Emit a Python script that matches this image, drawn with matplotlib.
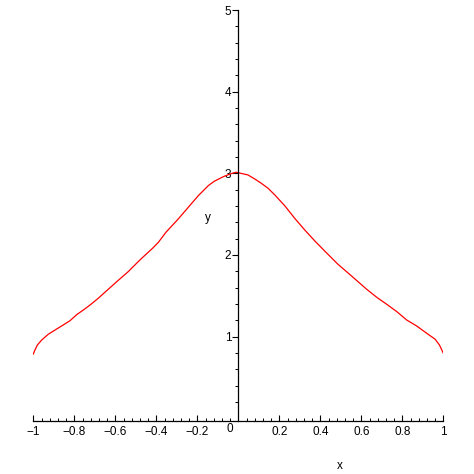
import numpy as np
import matplotlib
matplotlib.use("Agg")
import matplotlib.pyplot as plt

# Curve values (x, y)
x_vals = [-1.0, -0.992, -0.980, -0.959, -0.927, -0.894, -0.854, -0.821, -0.788,
          -0.756, -0.723, -0.683, -0.642, -0.593, -0.537, -0.480, -0.415, -0.390,
          -0.353, -0.293, -0.244, -0.195, -0.146, -0.117, -0.073, -0.040,
          -0.011,
          0.012, 0.047, 0.080, 0.112, 0.145, 0.178, 0.226, 0.275, 0.324, 0.373,
          0.421, 0.486, 0.537, 0.578, 0.626, 0.675, 0.724, 0.773, 0.821, 0.870,
          0.919, 0.960, 0.981, 1.0]
y_vals = [0.787, 0.837, 0.898, 0.959, 1.029, 1.081, 1.143, 1.195, 1.270,
          1.326, 1.388, 1.470, 1.563, 1.673, 1.796, 1.939, 2.090, 2.155,
          2.278, 2.441, 2.584, 2.727, 2.850, 2.903, 2.959, 2.992,
          3.013,
          3.000, 2.980, 2.931, 2.878, 2.817, 2.735, 2.604, 2.449, 2.306, 2.172,
          2.049, 1.886, 1.776, 1.686, 1.580, 1.482, 1.396, 1.306, 1.204, 1.130,
          1.041, 0.968, 0.898, 0.796]

x_ticks = [-1, -0.8, -0.6, -0.4, -0.2, 0.2, 0.4, 0.6, 0.8, 1]
x_tick_labels = ["\u22121", "\u22120.8", "\u22120.6", "\u22120.4", "\u22120.2",
                 "0.2", "0.4", "0.6", "0.8", "1"]
y_ticks = [1, 2, 3, 4, 5]

plt.rcParams["font.family"] = ["Liberation Sans", "DejaVu Sans"]

fig = plt.figure(figsize=(4.74, 4.74), dpi=100)
ax = fig.add_axes([0.0703, 0.1124, 0.865, 0.8665])

ax.plot(x_vals, y_vals, color="red", linewidth=0.9)

ax.set_xlim(-1, 1)
ax.set_ylim(-0.03, 5)

for side in ["top", "right"]:
    ax.spines[side].set_visible(False)
ax.spines["left"].set_position(("data", 0))
ax.spines["left"].set_linewidth(0.9)
ax.spines["bottom"].set_linewidth(0.9)

ax.set_xticks(x_ticks)
ax.set_xticklabels(x_tick_labels)
ax.set_xticks(np.arange(-1, 1.001, 0.04), minor=True)
ax.set_yticks(y_ticks)
ax.set_yticks(np.arange(0.2, 5.001, 0.2), minor=True)

ax.tick_params(axis="x", direction="in", length=4, width=0.8, labelsize=8.5, pad=4)
ax.tick_params(axis="x", which="minor", direction="in", length=2.5, width=0.7)
ax.tick_params(axis="y", direction="out", length=4, width=0.8, labelsize=8.5, pad=1)
ax.tick_params(axis="y", which="minor", direction="out", length=2.5, width=0.7)

ax.text(-0.04, -0.06, "0", ha="center", va="top", fontsize=8.5)
ax.text(-0.149, 2.45, "y", ha="center", va="center", fontsize=8.5)
ax.text(0.496, -0.58, "x", ha="center", va="center", fontsize=8.5, clip_on=False)

fig.savefig("out.png", dpi=100)
